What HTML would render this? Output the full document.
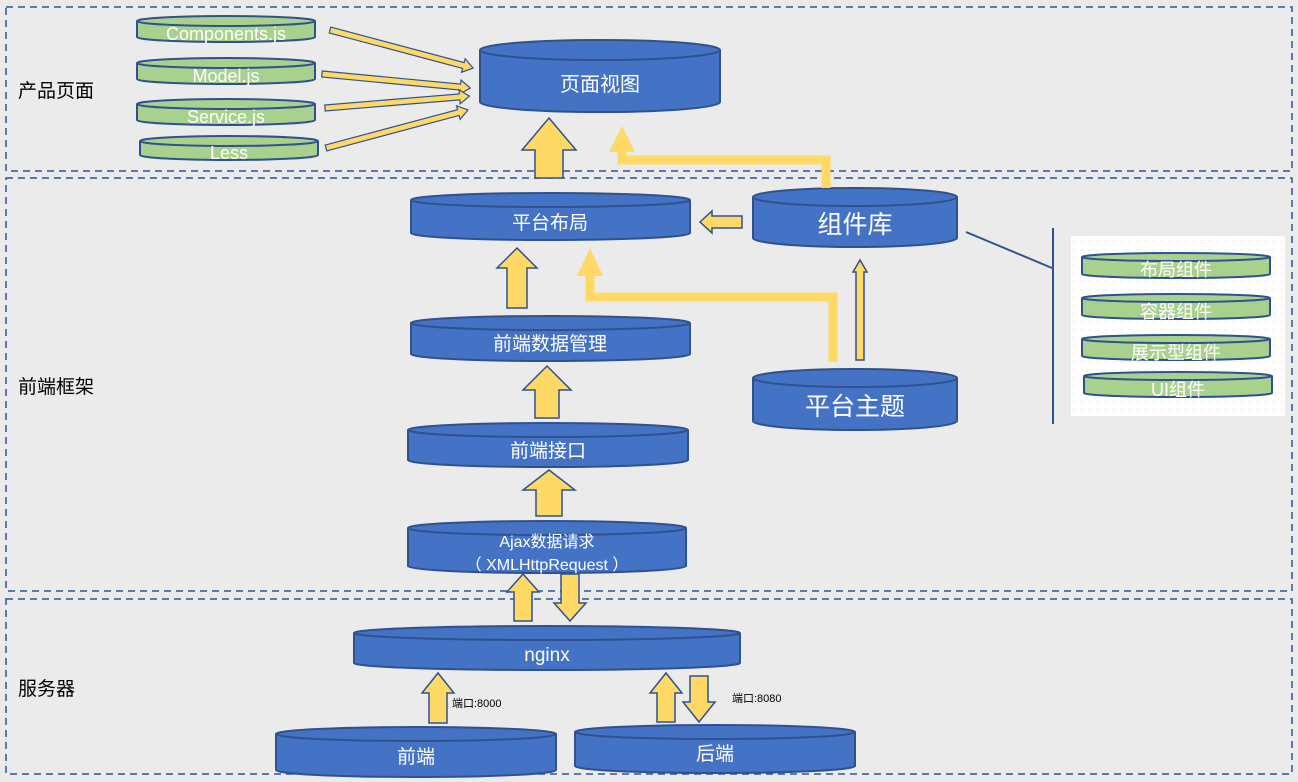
<!DOCTYPE html>
<html><head><meta charset="utf-8"><style>
html,body{margin:0;padding:0;background:#fff}
svg{display:block;font-family:"Liberation Sans","Noto Sans CJK SC",sans-serif}
</style></head><body>
<svg width="1298" height="782" viewBox="0 0 1298 782" xmlns="http://www.w3.org/2000/svg">
<defs>
<pattern id="dots" width="8" height="8" patternUnits="userSpaceOnUse"><rect width="8" height="8" fill="#fff"/><circle cx="2" cy="2" r="0.6" fill="#ccc"/></pattern>
</defs>
<rect width="1298" height="782" fill="#ebebeb"/>
<g fill="none" stroke="#2f5597" stroke-width="1.5" stroke-dasharray="7,5">
<rect x="6" y="7" width="1286" height="164"/>
<rect x="6" y="178" width="1286" height="413"/>
<rect x="6" y="599" width="1286" height="175"/>
</g>
<g font-size="19" fill="#000">
<text x="18" y="97">产品页面</text>
<text x="18" y="393">前端框架</text>
<text x="18" y="695">服务器</text>
</g>

<!-- blue cylinders -->
<g fill="#4472c4" stroke="#2f528f" stroke-width="2">
<path d="M480,50 V102 A120,10 0 0 0 720,102 V50"/><ellipse cx="600" cy="50" rx="120" ry="10"/>
<path d="M411,200 V233 A139.5,7 0 0 0 690,233 V200"/><ellipse cx="550.5" cy="200" rx="139.5" ry="7"/>
<path d="M753,197 V238 A102,9 0 0 0 957,238 V197"/><ellipse cx="855" cy="197" rx="102" ry="9"/>
<path d="M411,323 V354 A139.5,7 0 0 0 690,354 V323"/><ellipse cx="550.5" cy="323" rx="139.5" ry="7"/>
<path d="M753,378 V421 A102,9 0 0 0 957,421 V378"/><ellipse cx="855" cy="378" rx="102" ry="9"/>
<path d="M408,430 V460 A140,7 0 0 0 688,460 V430"/><ellipse cx="548" cy="430" rx="140" ry="7"/>
<path d="M408,528 V566 A139,7 0 0 0 686,566 V528"/><ellipse cx="547" cy="528" rx="139" ry="7"/>
<path d="M354,633 V663 A193,7 0 0 0 740,663 V633"/><ellipse cx="547" cy="633" rx="193" ry="7"/>
<path d="M276,734 V770 A140,7 0 0 0 556,770 V734"/><ellipse cx="416" cy="734" rx="140" ry="7"/>
<path d="M575,732 V766 A140,7 0 0 0 855,766 V732"/><ellipse cx="715" cy="732" rx="140" ry="7"/>
</g>
<g fill="#fff" text-anchor="middle" font-size="19">
<text x="600" y="91" font-size="20">页面视图</text>
<text x="550" y="229">平台布局</text>
<text x="855" y="233" font-size="25">组件库</text>
<text x="550" y="350">前端数据管理</text>
<text x="855" y="415" font-size="25">平台主题</text>
<text x="548" y="457">前端接口</text>
<text x="547" y="547" font-size="16">Ajax数据请求</text>
<text x="547" y="570" font-size="16">（ XMLHttpRequest ）</text>
<text x="547" y="661">nginx</text>
<text x="416" y="763">前端</text>
<text x="715" y="760">后端</text>
</g>

<!-- green cylinders -->
<g fill="#a9d18e" stroke="#2f528f" stroke-width="2">
<path d="M137,21 V37 A89,5 0 0 0 315,37 V21"/><ellipse cx="226" cy="21" rx="89" ry="5"/>
<path d="M137,63 V79 A89,5 0 0 0 315,79 V63"/><ellipse cx="226" cy="63" rx="89" ry="5"/>
<path d="M137,104 V120 A89,5 0 0 0 315,120 V104"/><ellipse cx="226" cy="104" rx="89" ry="5"/>
<path d="M140,141 V155 A89,5 0 0 0 318,155 V141"/><ellipse cx="229" cy="141" rx="89" ry="5"/>
</g>
<rect x="1071" y="236" width="214" height="180" fill="url(#dots)"/>
<g fill="#a9d18e" stroke="#2f528f" stroke-width="2">
<path d="M1082,257 V274 A94,4 0 0 0 1270,274 V257"/><ellipse cx="1176" cy="257" rx="94" ry="4"/>
<path d="M1082,298 V315 A94,4 0 0 0 1270,315 V298"/><ellipse cx="1176" cy="298" rx="94" ry="4"/>
<path d="M1082,339 V356 A94,4 0 0 0 1270,356 V339"/><ellipse cx="1176" cy="339" rx="94" ry="4"/>
<path d="M1084,376 V393 A94,4 0 0 0 1272,393 V376"/><ellipse cx="1178" cy="376" rx="94" ry="4"/>
</g>
<g fill="#fff" text-anchor="middle" font-size="18">
<text x="226" y="40">Components.js</text>
<text x="226" y="82">Model.js</text>
<text x="226" y="123">Service.js</text>
<text x="229" y="159">Less</text>
<text x="1176" y="276">布局组件</text>
<text x="1176" y="318">容器组件</text>
<text x="1176" y="359">展示型组件</text>
<text x="1178" y="396">UI组件</text>
</g>

<!-- connector lines -->
<g stroke="#2f528f" stroke-width="2" fill="none">
<line x1="966" y1="232" x2="1052" y2="268"/>
<line x1="1053" y1="228" x2="1053" y2="424"/>
</g>
<g stroke="#ffd966" stroke-width="9" fill="none">
<polyline points="826,188 826,160 622,160 622,150"/>
<polyline points="833,362 833,297 590,297 590,273"/>
</g>
<g fill="#ffd966">
<polygon points="609,152 635,152 622,126"/>
<polygon points="577,276 603,276 590,248"/>
</g>

<!-- block arrows -->
<g fill="#ffd966" stroke="#2f528f" stroke-width="1.5">
<polygon points="549,118 576,150 563,150 563,178 535,178 535,150 522,150"/>
<polygon points="517,248 537,268 527,268 527,308 507,308 507,268 497,268"/>
<polygon points="547,366 571,390 559,390 559,418 535,418 535,390 523,390"/>
<polygon points="549,470 575,490 562,490 562,516 536,516 536,490 523,490"/>
<polygon points="523,574 539,592 532,592 532,621 514,621 514,592 507,592"/>
<polygon points="570,621 586,603 579,603 579,574 561,574 561,603 554,603"/>
<polygon points="438,673 454,693 447,693 447,723 429,723 429,693 422,693"/>
<polygon points="666,673 682,693 675,693 675,722 657,722 657,693 650,693"/>
<polygon points="699,722 715,702 708,702 708,676 690,676 690,702 683,702"/>
<polygon points="700,222 712,211 712,216 742,216 742,228 712,228 712,233"/>
<polygon points="860,260 867,272 864,272 864,360 856,360 856,272 853,272"/>
<g stroke-width="1.2">
<polygon transform="translate(330,30) rotate(14.9)" points="0,-3 138,-3 138,-7 148,0 138,7 138,3 0,3"/>
<polygon transform="translate(322,74) rotate(5.4)" points="0,-3 139,-3 139,-7 149,0 139,7 139,3 0,3"/>
<polygon transform="translate(325,108) rotate(-4.7)" points="0,-3 135,-3 135,-7 145,0 135,7 135,3 0,3"/>
<polygon transform="translate(326,148) rotate(-15)" points="0,-3 137,-3 137,-7 147,0 137,7 137,3 0,3"/>
</g>
</g>
<g font-size="11" fill="#000">
<text x="452" y="707">端口:8000</text>
<text x="732" y="702">端口:8080</text>
</g>
</svg>
</body></html>
